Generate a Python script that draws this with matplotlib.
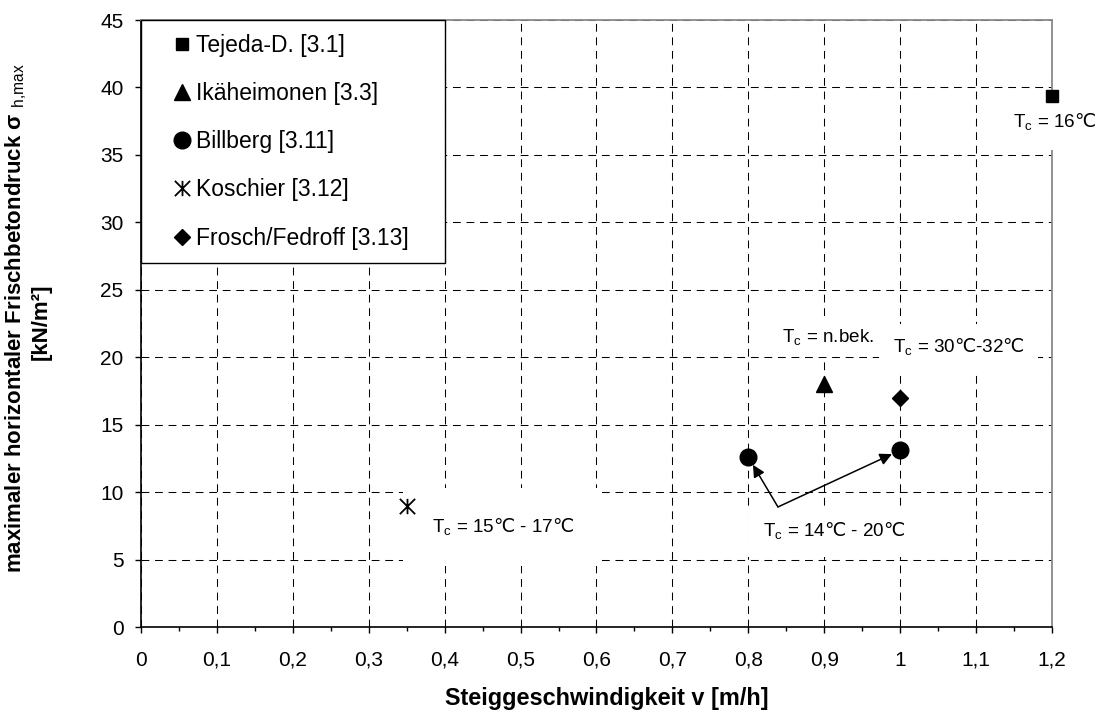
import matplotlib
matplotlib.use("Agg")
import matplotlib.pyplot as plt
from matplotlib.lines import Line2D
from matplotlib.path import Path
from matplotlib.ticker import FixedLocator

plt.rcParams['font.family'] = ['Liberation Sans', 'DejaVu Sans']
plt.rcParams['mathtext.fontset'] = 'custom'
plt.rcParams['mathtext.rm'] = 'Liberation Sans'
plt.rcParams['mathtext.sf'] = 'DejaVu Sans'

# --- data ---
series = ['Tejeda-D. [3.1]', 'Ikäheimonen [3.3]', 'Billberg [3.11]',
          'Koschier [3.12]', 'Frosch/Fedroff [3.13]']
tejeda_v = [1.2]
tejeda_p = [39.4]
ika_v = [0.9]
ika_p = [18.0]
billberg_v = [0.8, 1.0]
billberg_p = [12.6, 13.1]
koschier_v = [0.35]
koschier_p = [9.0]
frosch_v = [1.0]
frosch_p = [17.0]

x_ticks = [0, 0.1, 0.2, 0.3, 0.4, 0.5, 0.6, 0.7, 0.8, 0.9, 1.0, 1.1, 1.2]
x_tick_labels = ['0', '0,1', '0,2', '0,3', '0,4', '0,5', '0,6', '0,7',
                 '0,8', '0,9', '1', '1,1', '1,2']
y_ticks = [0, 5, 10, 15, 20, 25, 30, 35, 40, 45]

# temperature notes: (x, y baseline, text, box pad)
notes = [
    (1.148, 37.0, r'T$_\mathregular{c}$ = 16$\mathsf{℃}$', 0.9),
    (0.990, 20.3, r'T$_\mathregular{c}$ = 30$\mathsf{℃}$-32$\mathsf{℃}$', 0.7),
    (0.844, 21.1, r'T$_\mathregular{c}$ = n.bek.', 0.5),
    (0.383, 7.0, r'T$_\mathregular{c}$ = 15$\mathsf{℃}$ - 17$\mathsf{℃}$', 1.5),
    (0.819, 6.7, r'T$_\mathregular{c}$ = 14$\mathsf{℃}$ - 20$\mathsf{℃}$', 0.8),
]
arrow_tail = (0.839, 8.9)

# star marker like excel (x with vertical bar)
star = Path([(-1, -1), (1, 1), (-1, 1), (1, -1), (0, -1), (0, 1)],
            [Path.MOVETO, Path.LINETO] * 3)

fig = plt.figure(figsize=(10.97, 7.10), dpi=100)
ax = fig.add_axes([0.1285, 0.1169, 0.8305, 0.8549])

styles = [
    dict(marker='s', ms=8.5),
    dict(marker='^', ms=11),
    dict(marker='o', ms=12),
    dict(marker=star, ms=11, mew=1.3),
    dict(marker='D', ms=8.6),
]
xs = [tejeda_v, ika_v, billberg_v, koschier_v, frosch_v]
ys = [tejeda_p, ika_p, billberg_p, koschier_p, frosch_p]
for v, p, st in zip(xs, ys, styles):
    ax.plot(v, p, ls='none', color='black', mec='black', zorder=4, clip_on=False, **st)

ax.set_xlim(0, 1.2)
ax.set_ylim(0, 45)
ax.xaxis.set_major_locator(FixedLocator(x_ticks))
ax.set_xticklabels(x_tick_labels)
ax.xaxis.set_minor_locator(FixedLocator([t + 0.05 for t in x_ticks[:-1]]))
ax.set_yticks(y_ticks)

ax.tick_params(axis='both', which='major', direction='out', length=4.6, width=1,
               labelsize=15, color='black')
ax.tick_params(axis='x', which='major', pad=12.5)
ax.tick_params(axis='y', which='major', pad=8)
ax.tick_params(axis='x', which='minor', direction='out', length=3, width=1)

ax.grid(True, which='major', color='black', lw=0.75, linestyle=(0, (7.5, 5.5)))

for s in ['left', 'bottom']:
    ax.spines[s].set_color('black')
    ax.spines[s].set_linewidth(1.2)
for s in ['top', 'right']:
    ax.spines[s].set_color('#8a8a8a')
    ax.spines[s].set_linewidth(1.3)

for nx, ny, txt, pad in notes:
    ax.text(nx, ny, txt, fontsize=13.6, ha='left', va='baseline', zorder=3,
            bbox=dict(boxstyle='square,pad=%s' % pad, facecolor='white', edgecolor='none'))

for bx, by in zip(billberg_v, billberg_p):
    ax.annotate('', xy=(bx, by), xytext=arrow_tail, zorder=5,
                arrowprops=dict(arrowstyle='-|>', color='black', lw=1.1,
                                shrinkA=0, shrinkB=6.5, mutation_scale=18))

handles = [Line2D([], [], ls='none', color='black', mec='black', **st) for st in styles]
leg = ax.legend(handles, series, loc='upper left', bbox_to_anchor=(0, 0, 1 / 3, 1),
                mode='expand', borderaxespad=0, fontsize=16.5, frameon=True,
                fancybox=False, framealpha=1, edgecolor='black', labelspacing=1.1,
                handlelength=2.4, handletextpad=-0.6, borderpad=0.6)
leg.get_frame().set_linewidth(1.0)
leg.set_zorder(6)

fig.text(16 / 1097, 1 - 318 / 710,
         r'maximaler horizontaler Frischbetondruck σ $_\mathrm{h{,}max}$',
         rotation=90, ha='center', va='center', fontsize=16, fontweight='bold')
fig.text(41 / 1097, 1 - 322 / 710, '[kN/m²]', rotation=90, ha='center',
         va='center', fontsize=16, fontweight='bold')
fig.text(606.5 / 1097, 1 - 699 / 710, 'Steiggeschwindigkeit v [m/h]',
         ha='center', va='center', fontsize=16.9, fontweight='bold')

fig.savefig('out.png', dpi=100)
